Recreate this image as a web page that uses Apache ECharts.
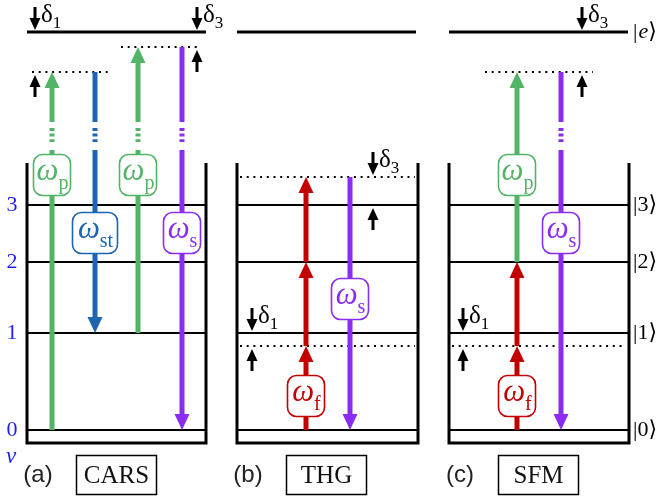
<!DOCTYPE html>
<html><head><meta charset="utf-8">
<script src="https://cdn.jsdelivr.net/npm/echarts@6/dist/echarts.min.js"></script>
<style>html,body{margin:0;padding:0;background:#fff}#c{width:659px;height:496px}</style>
</head><body><div id="c"></div>
<script>
// ---------------- data ----------------
const panelNames = ['CARS', 'THG', 'SFM'];
const panelTags = ['(a)', '(b)', '(c)'];
const vibTickLabels = ['0', '1', '2', '3'];          // ν
const vibEnergy = [0, 97, 168, 225];                 // energies of |ν⟩ (arb. units)
const ketLabels = ['|0⟩', '|1⟩', '|2⟩', '|3⟩'];
const excitedEnergy = 398;                           // |e⟩
// virtual levels: [panel, energy]
const virtualLevels = [[0, 358], [0, 383], [1, 84], [1, 253], [2, 84], [2, 358]];
// transitions: [panel, fromEnergy, toEnergy, field]
const transitions = [
  [0, 0, 358, 'p'], [0, 358, 97, 'st'], [0, 97, 383, 'p'], [0, 383, 0, 's'],
  [1, 0, 84, 'f'], [1, 84, 168, 'f'], [1, 168, 253, 'f'], [1, 253, 0, 's'],
  [2, 0, 84, 'f'], [2, 84, 168, 'f'], [2, 168, 358, 'p'], [2, 358, 0, 's']
];
// field labels: [transition index, energy of label centre]
const fieldLabels = [[0, 255], [1, 197], [2, 255], [3, 197], [4, 34], [7, 131], [8, 34], [10, 255], [11, 197]];
// detunings: [panel, upperEnergy, lowerEnergy, index]
const detunings = [[0, 398, 358, '1'], [0, 398, 383, '3'], [1, 253, 225, '3'], [1, 97, 84, '1'], [2, 398, 358, '3'], [2, 97, 84, '1']];

// ---------------- layout / style (not data) ----------------
const panelLeft = [27, 237, 449];
const wellWidth = [179, 181, 180];
const wellTopE = 267, wellBottomE = -13;
const virtualExtent = [[32, 112], [121, 200], [240, 415], [240, 415], [452, 626], [485, 593]];
const transX = [52, 95, 138, 182, 306, 306, 306, 350, 517, 517, 517, 561];
const transBreak = [1, 1, 1, 1, 0, 0, 0, 0, 0, 0, 0, 1];
const detuneX = [35, 197, 373, 252, 582, 463];
const fieldColor = { p: '#52b466', st: '#1f64ae', s: '#8a2cf2', f: '#c20000' };
const tickBlue = '#1f1fef';
const SERIF = '"Liberation Serif", "DejaVu Serif", serif';
const SANS = '"Liberation Sans", Arial, sans-serif';

const mctx = document.createElement('canvas').getContext('2d');
function tw(t, f) { mctx.font = f; return mctx.measureText(t).width; }
function C(api, x, e) { return api.coord([x, e]); }

function seriesOf(name, items, fn) {
  return {
    type: 'custom', name, coordinateSystem: 'cartesian2d', clip: false, silent: true,
    animation: false, z: 2,
    data: items.map((_, i) => [i, 0]),
    renderItem: (params, api) => fn(items[params.dataIndex], params.dataIndex, api)
  };
}
function line(a, b, color, w, dash) {
  return { type: 'line', shape: { x1: a[0], y1: a[1], x2: b[0], y2: b[1] },
    style: { stroke: color, lineWidth: w, lineDash: dash || null, lineCap: 'butt' } };
}
function text(x, y, t, font, color, align, va) {
  return { type: 'text', x, y, style: { text: t, font, fill: color, align: align || 'center', verticalAlign: va || 'middle' } };
}

const series = [];
// wells
series.push(seriesOf('wells', panelNames, (n, p, api) => {
  const L = panelLeft[p], R = L + wellWidth[p];
  return { type: 'polyline', shape: { points: [C(api, L, wellTopE), C(api, L, wellBottomE), C(api, R, wellBottomE), C(api, R, wellTopE)] },
    style: { stroke: '#000', lineWidth: 3, fill: null, lineJoin: 'miter' } };
}));
// vibrational levels
const levelItems = [];
panelNames.forEach((n, p) => vibEnergy.forEach((e, k) => levelItems.push([p, e])));
series.push(seriesOf('levels', levelItems, (it, i, api) => {
  const L = panelLeft[it[0]], R = L + wellWidth[it[0]];
  return line(C(api, L, it[1]), C(api, R, it[1]), '#000', 2);
}));
// excited level
series.push(seriesOf('excited', panelNames, (n, p, api) => {
  const L = panelLeft[p];
  return line(C(api, L, excitedEnergy), C(api, L + 179, excitedEnergy), '#000', 3);
}));
// virtual levels
series.push(seriesOf('virtual', virtualLevels, (v, i, api) => {
  const ex = virtualExtent[i];
  return line(C(api, ex[0], v[1]), C(api, ex[1], v[1]), '#000', 2, [2, 4.7]);
}));
// transitions
series.push(seriesOf('transitions', transitions, (t, i, api) => {
  const col = fieldColor[t[3]];
  const p0 = C(api, transX[i], t[1]), p1 = C(api, transX[i], t[2]);
  const px = p0[0];
  const dir = p1[1] > p0[1] ? 1 : -1;
  const headL = 16, headW = 15, sw = 5;
  const base = p1[1] - dir * headL;
  const kids = [];
  if (transBreak[i]) {
    const a = C(api, 0, 308)[1], d1 = C(api, 0, 302)[1], d2 = C(api, 0, 288)[1], b = C(api, 0, 280)[1];
    const top = Math.min(p0[1], base), bot = Math.max(p0[1], base);
    kids.push(line([px, top], [px, a], col, sw));
    kids.push(line([px, d1], [px, d2], col, sw, [3, 2.6]));
    kids.push(line([px, b], [px, bot], col, sw));
  } else {
    kids.push(line(p0, [px, base], col, sw));
  }
  kids.push({ type: 'polygon', shape: { points: [[px - headW / 2, base], [px + headW / 2, base], [px, p1[1]]] }, style: { fill: col } });
  return { type: 'group', children: kids };
}));
// field label boxes
series.push(seriesOf('fields', fieldLabels, (f, i, api) => {
  const t = transitions[f[0]], col = fieldColor[t[3]];
  const c = C(api, transX[f[0]], f[1]);
  const w = t[3] === 'st' ? 45 : 37, h = 41;
  const fw = 'italic 31px ' + SERIF, fs = '20px ' + SERIF;
  const w1 = tw('ω', fw), w2 = tw(t[3], fs);
  const sx = c[0] - (w1 + w2) / 2 + 0.5;
  return { type: 'group', children: [
    { type: 'rect', shape: { x: c[0] - w / 2, y: c[1] - h / 2, width: w, height: h, r: 9 }, style: { fill: '#fff', stroke: col, lineWidth: 1.6 } },
    text(sx, c[1] - 3, 'ω', fw, col, 'left'),
    text(sx + w1, c[1] + 9, t[3], fs, col, 'left')
  ] };
}));
// detunings
series.push(seriesOf('detunings', detunings, (d, i, api) => {
  const yu = C(api, 0, d[1])[1], yl = C(api, 0, d[2])[1];
  const px = C(api, detuneX[i], 0)[0];
  const hw = 11, hl = 12;
  const t1 = yu - 2, s1 = t1 - 23, t2 = yl + 3, s2 = t2 + 22;
  const fd = '25px ' + SERIF, fsub = '17px ' + SERIF;
  const wd = tw('δ', fd);
  const my = (s1 + t1) / 2 - 3;
  return { type: 'group', children: [
    line([px, s1], [px, t1 - hl + 1], '#000', 3),
    { type: 'polygon', shape: { points: [[px - hw / 2, t1 - hl], [px + hw / 2, t1 - hl], [px, t1]] }, style: { fill: '#000' } },
    line([px, s2], [px, t2 + hl - 1], '#000', 3),
    { type: 'polygon', shape: { points: [[px - hw / 2, t2 + hl], [px + hw / 2, t2 + hl], [px, t2]] }, style: { fill: '#000' } },
    text(px + 6, my, 'δ', fd, '#000', 'left'),
    text(px + 6 + wd, my + 8, d[3], fsub, '#000', 'left')
  ] };
}));
// vibrational tick labels (left) and ket labels (right)
series.push(seriesOf('ticks', vibTickLabels, (l, k, api) => {
  const p = C(api, 12, vibEnergy[k]);
  return text(p[0], p[1], l, '22px ' + SERIF, tickBlue);
}));
series.push(seriesOf('nu', ['ν'], (l, k, api) => {
  const p = C(api, 11, -27);
  return text(p[0], p[1], l, 'italic 23px ' + SERIF, tickBlue);
}));
series.push(seriesOf('kets', ketLabels, (l, k, api) => {
  const p = C(api, 633, vibEnergy[k]);
  return text(p[0], p[1], l, '22px ' + SERIF, '#000', 'left');
}));
series.push(seriesOf('ketE', ['e'], (l, k, api) => {
  const p = C(api, 633, excitedEnergy);
  const f = '22px ' + SERIF, fi = 'italic 22px ' + SERIF;
  const w1 = tw('|', f), w2 = tw('e', fi);
  return { type: 'group', children: [
    text(p[0], p[1], '|', f, '#000', 'left'),
    text(p[0] + w1 + 1, p[1], 'e', fi, '#000', 'left'),
    text(p[0] + w1 + w2 + 1, p[1], '⟩', f, '#000', 'left')
  ] };
}));
// panel tags and names
series.push(seriesOf('panels', panelNames, (n, p, api) => {
  const L = panelLeft[p];
  const tag = C(api, L + 11, -45), box = C(api, L + 89.5, -45);
  return { type: 'group', children: [
    text(tag[0], tag[1], panelTags[p], '24px ' + SANS, '#222'),
    { type: 'rect', shape: { x: box[0] - 40, y: box[1] - 19.5, width: 80, height: 39 }, style: { fill: '#fff', stroke: '#000', lineWidth: 1.5 } },
    text(box[0], box[1] + 1, n, '25px ' + SERIF, '#111')
  ] };
}));

const chart = echarts.init(document.getElementById('c'), null, { renderer: 'canvas' });
chart.setOption({
  animation: false,
  backgroundColor: '#fff',
  grid: { left: 0, right: 0, top: 0, bottom: 0 },
  xAxis: { type: 'value', min: 0, max: 659, show: false },
  yAxis: { type: 'value', min: -66, max: 430, show: false },
  series
});
</script></body></html>
